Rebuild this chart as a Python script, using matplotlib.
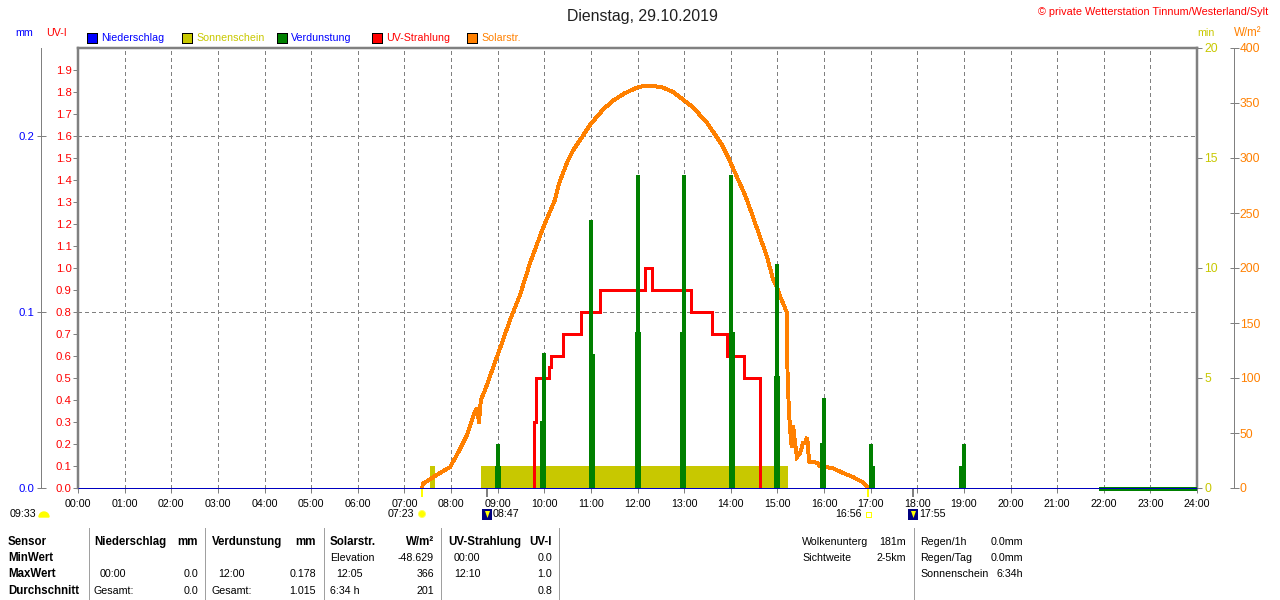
import numpy as np
import matplotlib
matplotlib.use("Agg")
import matplotlib.pyplot as plt
from matplotlib.patches import Rectangle, Circle, Wedge, Polygon
from matplotlib.transforms import ScaledTranslation

# ---------- data ----------
hour_labels = [f"{h:02d}:00" for h in range(25)]
uv_ticks = [round(i * 0.1, 1) for i in range(20)]
mm_ticks = [0.0, 0.1, 0.2]
min_ticks = [0, 5, 10, 15, 20]
w_ticks = [0, 50, 100, 150, 200, 250, 300, 350, 400]

solar_t = [7.38, 7.40, 7.70, 7.98, 8.15, 8.34, 8.51, 8.56, 8.60, 8.64, 8.73, 8.94, 9.115, 9.265, 9.48, 9.695,
           9.97, 10.23, 10.32, 10.40, 10.51, 10.62, 10.81, 10.98, 11.26, 11.47, 11.73, 11.99, 12.12, 12.33,
           12.55, 12.76, 12.98, 13.19, 13.34, 13.49, 13.62, 13.81, 13.94, 14.13, 14.31, 14.48, 14.78, 14.91,
           14.99, 15.06, 15.12, 15.21, 15.215, 15.23, 15.25, 15.29, 15.31, 15.335, 15.38, 15.42, 15.49, 15.55,
           15.59, 15.64, 15.68, 15.85, 15.91, 16.19, 16.39, 16.62, 16.84, 16.94]
solar_w = [0, 4, 12, 19, 32, 48, 69, 73, 59, 80, 89, 114, 134.5, 152.7, 175.5, 204.5,
           236, 262, 277, 286, 298, 307, 319, 330, 344, 352, 359, 364, 365.5, 365.5,
           364, 360, 353, 346, 339, 332, 324, 312, 301, 283, 266, 246, 210, 189,
           183, 174, 168, 159, 110, 89, 68, 44, 37, 57, 41, 28, 32, 41,
           41, 46, 24, 23, 20, 18, 14, 10, 5, 1]

uv_t = [9.78, 9.83, 10.10, 10.14, 10.40, 10.79, 11.20, 12.16, 12.31, 13.15, 13.60, 13.92, 14.28, 14.63]
uv_v = [0.3, 0.5, 0.55, 0.6, 0.7, 0.8, 0.9, 1.0, 0.9, 0.8, 0.7, 0.6, 0.5, 0.0]

evap_t = [9.0, 10.0, 11.0, 12.0, 13.0, 14.0, 15.0, 16.0, 17.0, 19.0]
evap_high = [0.025, 0.0767, 0.152, 0.178, 0.178, 0.178, 0.127, 0.051, 0.025, 0.025]
evap_low_t = [9.0, 9.97, 11.03, 12.0, 12.97, 14.03, 15.0, 15.97, 17.04, 18.96]
evap_low = [0.0125, 0.038, 0.076, 0.0886, 0.0886, 0.0886, 0.0636, 0.0256, 0.0125, 0.0125]
evap_late_t = [21.9, 24.0]
evap_late = [0.0, 0.0]

sun_start = [7.55, 8.64]
sun_end = [7.66, 15.23]
sun_min = [1.0, 1.0]

rain_t = [0.0, 24.0]
rain_v = [0.0, 0.0]

GRAY = "#808080"
YEL = "#c8c800"
ORG = "#ff8000"
GRN = "#008000"
BLU = "#0000ff"
RED = "#ff0000"
FS = 7.7
FSB = 8.3
PX = 0.72

plt.rcParams["font.family"] = ["Liberation Sans", "DejaVu Sans"]
plt.rcParams["font.size"] = FS

W, H = 1280, 600
fig = plt.figure(figsize=(12.8, 6.0), dpi=100, facecolor="white")
pos = [78 / W, 1 - 488 / H, (1197 - 78) / W, 440 / H]


def fx(x):
    return x / W


def fy(y):
    return 1 - y / H


def txt(x, y, s, color="black", ha="left", size=FS, weight="normal"):
    fig.text(fx(x), fy(y), s, color=color, ha=ha, va="center", fontsize=size, fontweight=weight)


def rect(x, y, w, h, fc, ec="none", lw=0):
    fig.add_artist(Rectangle((fx(x), fy(y + h)), w / W, h / H, transform=fig.transFigure,
                             facecolor=fc, edgecolor=ec, linewidth=lw, antialiased=False))


def vline(x, y0, y1, color, lw=1.0):
    fig.add_artist(plt.Line2D([fx(x), fx(x)], [fy(y0), fy(y1)], color=color, lw=lw * PX,
                              transform=fig.transFigure, antialiased=False, solid_capstyle="butt"))


# base axes: frame, hour ticks, grid
ax = fig.add_axes(pos, zorder=1)
ax.set_xlim(0, 24)
ax.set_ylim(0, 0.25)
ax.set_xticks(range(25))
ax.set_xticklabels(hour_labels, fontsize=FS)
ax.tick_params(axis="x", length=5 * PX, width=PX, color=GRAY, pad=4, labelcolor="black")
ax.set_yticks([])
for s in ("left", "top", "right"):
    ax.spines[s].set_color(GRAY)
    ax.spines[s].set_linewidth(2.5 * PX)
ax.spines["bottom"].set_color(GRAY)
ax.spines["bottom"].set_linewidth(PX)
dash = (0, (4, 3))
for h in range(1, 24):
    ax.axvline(h, color=GRAY, lw=PX, ls=dash, antialiased=False, zorder=1)
for v in mm_ticks[1:]:
    ax.axhline(v, color=GRAY, lw=PX, ls=dash, antialiased=False, zorder=1)


def overlay(z, ylim):
    a = fig.add_axes(pos, zorder=z, sharex=ax)
    a.patch.set_visible(False)
    a.set_ylim(*ylim)
    for s in a.spines.values():
        s.set_visible(False)
    a.tick_params(axis="x", bottom=False, labelbottom=False)
    return a


# sunshine, right axis in minutes
ax_min = overlay(2, (0, 20))
for a0, a1, m in zip(sun_start, sun_end, sun_min):
    ax_min.fill_between([a0, a1], [0, 0], [m, m], color=YEL, lw=0, antialiased=False)
ax_min.yaxis.tick_right()
ax_min.set_yticks(min_ticks)
ax_min.tick_params(axis="y", length=5 * PX, width=PX, color=GRAY, labelcolor=YEL, labelsize=FS + 1, pad=1.5)

# solar radiation, far right axis
ax_w = overlay(3, (0, 400))
ax_w.plot(solar_t, solar_w, color=ORG, lw=2.9 * PX, solid_joinstyle="miter", antialiased=False)
ax_w.yaxis.tick_right()
ax_w.set_yticks(w_ticks)
ax_w.spines["right"].set_visible(True)
ax_w.spines["right"].set_position(("outward", 37 * PX))
ax_w.spines["right"].set_color(GRAY)
ax_w.spines["right"].set_linewidth(PX)
ax_w.tick_params(axis="y", direction="inout", length=9 * PX, width=PX, color=GRAY,
                 labelcolor=ORG, labelsize=FS + 1, pad=1)

# UV index, inner left axis
ax_uv = overlay(4, (0, 2.0))
ax_uv.step([uv_t[0]] + uv_t, [0.0] + uv_v, where="post", color=RED, lw=3.0 * PX,
           solid_joinstyle="miter", antialiased=True)
ax_uv.set_yticks(uv_ticks)
ax_uv.set_yticklabels([f"{v:.1f}" for v in uv_ticks])
ax_uv.tick_params(axis="y", length=5 * PX, width=PX, color=GRAY, labelcolor=RED, labelsize=FS + 0.5, pad=1)

# evaporation and precipitation, outer left axis
ax_mm = overlay(5, (0, 0.25))
ax_mm.vlines(evap_t, 0, evap_high, color=GRN, lw=3.5 * PX, antialiased=False)
ax_mm.vlines(evap_low_t, 0, evap_low, color=GRN, lw=5.5 * PX, antialiased=False)
off = ax_mm.transData + ScaledTranslation(0, -1 / 100, fig.dpi_scale_trans)
ax_mm.plot(evap_late_t, evap_late, color=GRN, lw=2.5 * PX, transform=off, clip_on=False,
           solid_capstyle="butt", antialiased=False)
ax_mm.plot(rain_t, rain_v, color="#0000c0", lw=1.0 * PX, clip_on=False, solid_capstyle="butt",
           antialiased=True, zorder=6)
ax_mm.set_yticks(mm_ticks)
ax_mm.set_yticklabels([f"{v:.1f}" for v in mm_ticks])
ax_mm.spines["left"].set_visible(True)
ax_mm.spines["left"].set_position(("outward", 37.5 * PX))
ax_mm.spines["left"].set_color(GRAY)
ax_mm.spines["left"].set_linewidth(PX)
ax_mm.tick_params(axis="y", direction="inout", length=9 * PX, width=PX, color=GRAY,
                  labelcolor=BLU, labelsize=FS + 0.5, pad=1.5)

# title and header
txt(642, 16, "Dienstag, 29.10.2019", ha="center", size=11.4, color="#202020")
txt(1268, 12, "© private Wetterstation Tinnum/Westerland/Sylt", color=RED, ha="right", size=FS + 0.1)
txt(15, 33, "mm", BLU)
txt(46, 33, "UV-I", RED)
txt(1197, 33, "min", YEL)
txt(1234, 33, "W/m²", ORG, size=FS + 0.6)

# legend
legend_names = ["Niederschlag", "Sonnenschein", "Verdunstung", "UV-Strahlung", "Solarstr."]
legend_box = ["#0000ff", YEL, GRN, RED, ORG]
legend_text = [BLU, YEL, BLU, RED, ORG]
legend_x = [87, 182, 277, 372, 467]
for lx, n, bc, tc in zip(legend_x, legend_names, legend_box, legend_text):
    rect(lx, 33, 10, 10, bc, ec="black", lw=PX)
    txt(lx + 14, 38, n, tc)

# sun / twilight markers
txt(10, 514, "09:33")
fig.add_artist(Wedge((44, 600 - 517), 5, 0, 180, transform=None, facecolor="#ffff00", edgecolor="#ffff00"))
vline(422, 488, 497, "#ffff00", 2)
vline(487, 489, 497, GRAY, 2)
vline(868, 488, 497, "#ffff00", 2)
vline(913, 488, 497, GRAY, 2)
txt(388, 514, "07:23")
fig.add_artist(Circle((422, 600 - 514), 3.5, transform=None, facecolor="#ffff00", edgecolor="#ffff60", lw=PX))
rect(482, 509, 10, 11, "#000080")
fig.add_artist(Polygon([(485, 600 - 511), (490, 600 - 511), (487.5, 600 - 518)], closed=True, transform=None,
                       facecolor="#ffff00", edgecolor="none"))
txt(493, 514, "08:47")
txt(835, 514, "16:56")
rect(866, 512, 5, 5, "none", ec="#ffff00", lw=PX)
rect(908, 509, 10, 11, "#000080")
fig.add_artist(Polygon([(911, 600 - 511), (916, 600 - 511), (913.5, 600 - 518)], closed=True, transform=None,
                       facecolor="#ffff00", edgecolor="none"))
txt(919, 514, "17:55")

# table
rows = [542, 558, 574, 591]
for x in (88.5, 205, 324, 441, 559, 913.5):
    vline(x, 528, 600, "#a0a0a0", 1)
for r, s in zip(rows, ["Sensor", "MinWert", "MaxWert", "Durchschnitt"]):
    txt(8, r, s, weight="bold", size=FSB)

table_left = [
    (94, 0, "Niederschlag", "bold"), (212, 0, "Verdunstung", "bold"), (330, 0, "Solarstr.", "bold"),
    (448, 0, "UV-Strahlung", "bold"),
    (330, 1, "Elevation", "normal"), (454, 1, "00:00", "normal"),
    (100, 2, "00:00", "normal"), (218, 2, "12:00", "normal"), (336, 2, "12:05", "normal"), (454, 2, "12:10", "normal"),
    (94, 3, "Gesamt:", "normal"), (212, 3, "Gesamt:", "normal"), (330, 3, "6:34 h", "normal"),
    (802, 0, "Wolkenunterg", "normal"), (802, 1, "Sichtweite", "normal"),
    (920, 0, "Regen/1h", "normal"), (920, 1, "Regen/Tag", "normal"), (920, 2, "Sonnenschein", "normal"),
]
table_right = [
    (198, 0, "mm", "bold"), (316, 0, "mm", "bold"), (434, 0, "W/m²", "bold"), (552, 0, "UV-I", "bold"),
    (434, 1, "-48.629", "normal"), (552, 1, "0.0", "normal"),
    (198, 2, "0.0", "normal"), (316, 2, "0.178", "normal"), (434, 2, "366", "normal"), (552, 2, "1.0", "normal"),
    (198, 3, "0.0", "normal"), (316, 3, "1.015", "normal"), (434, 3, "201", "normal"), (552, 3, "0.8", "normal"),
    (906, 0, "181m", "normal"), (906, 1, "2-5km", "normal"),
    (1023, 0, "0.0mm", "normal"), (1023, 1, "0.0mm", "normal"), (1023, 2, "6:34h", "normal"),
]
for x, r, s, w in table_left:
    txt(x, rows[r], s, weight=w, size=FSB if w == "bold" else FS)
for x, r, s, w in table_right:
    txt(x, rows[r], s, ha="right", weight=w, size=FSB if w == "bold" else FS)

fig.savefig("out.png", dpi=100, facecolor="white")
